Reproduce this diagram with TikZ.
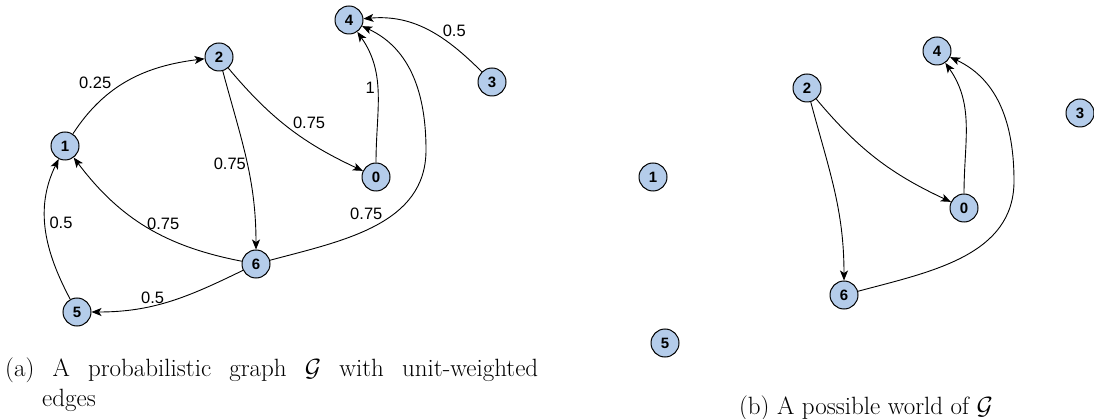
\documentclass[tikz,border=0pt]{standalone}
\usepackage{fontspec}
\usepackage{amsmath,amssymb}
\usetikzlibrary{arrows.meta,positioning}
\newfontfamily\graphfont{Liberation Sans}
\definecolor{vertexblue}{HTML}{B4CCEA}

\begin{document}
\begin{tikzpicture}[
    x=1pt, y=-1pt,
    vertex/.style={
      circle, draw, line width=1pt, fill=vertexblue,
      minimum size=28pt, inner sep=0pt,
      font=\graphfont\fontsize{15}{15}\selectfont\bfseries
    },
    weight/.style={font=\graphfont\fontsize{16.5}{16.5}\selectfont, inner sep=1pt},
    arrow/.style={-{Stealth[length=10pt, width=8pt, inset=2.5pt]}, line width=0.9pt},
    caption/.style={font=\fontsize{25}{30}\selectfont, inner sep=0pt},
  ]
  \useasboundingbox (0,0) rectangle (1094,419);

  % --- (a) probabilistic graph ---
  \node[vertex] (a0) at (376,177) {0};
  \node[vertex] (a1) at (65,146) {1};
  \node[vertex] (a2) at (219,57) {2};
  \node[vertex] (a3) at (492,82) {3};
  \node[vertex] (a4) at (349,20) {4};
  \node[vertex] (a5) at (77,312) {5};
  \node[vertex] (a6) at (256,264) {6};
  \coordinate (a64bend) at (426,150);

  \draw[arrow] (a1) to[out=57, in=187] node[weight, pos=0.37, above left] {0.25} (a2);
  \draw[arrow] (a2) to[out=-50, in=155] node[weight, pos=0.52, above right] {0.75} (a0);
  \draw[arrow] (a2) to[out=-75, in=90] node[weight, pos=0.53, left] {0.75} (a6);
  \draw[arrow] (a0) to[out=90, in=-55] node[weight, pos=0.55, left=1pt] {1} (a4);
  \draw[arrow] (a3) to[out=135, in=5] node[weight, pos=0.38, above right] {0.5} (a4);
  \draw[arrow] (a6) to[out=15, in=-90] node[weight, pos=0.55, above left] {0.75}
    (a64bend) to[out=90, in=-25] (a4);
  \draw[arrow] (a6) to[out=169, in=-53] node[weight, pos=0.4, above=5pt] {0.75} (a1);
  \draw[arrow] (a5) to[out=118, in=-116] node[weight, pos=0.55, right=3pt] {0.5} (a1);
  \draw[arrow] (a6) to[out=206, in=0] node[weight, pos=0.62, above=1pt] {0.5} (a5);

  % --- (b) possible world ---
  \node[vertex] (b0) at (964,208) {0};
  \node[vertex] (b1) at (653,177) {1};
  \node[vertex] (b2) at (807,88) {2};
  \node[vertex] (b3) at (1080,113) {3};
  \node[vertex] (b4) at (937,51) {4};
  \node[vertex] (b5) at (665,343) {5};
  \node[vertex] (b6) at (844,295) {6};
  \coordinate (b64bend) at (1014,181);

  \draw[arrow] (b2) to[out=-50, in=155] (b0);
  \draw[arrow] (b2) to[out=-75, in=90] (b6);
  \draw[arrow] (b0) to[out=90, in=-55] (b4);
  \draw[arrow] (b6) to[out=15, in=-90] (b64bend) to[out=90, in=-25] (b4);

  % --- Captions ---
  \node[caption, anchor=base west, align=left] (capa) at (5,406)
    {\hbox to 533pt{(a) A probabilistic graph $\mathcal{G}$ with unit-weighted}\\
     \hspace*{37pt}edges};
  \node[caption, anchor=base] (capb) at (866,414) {(b) A possible world of $\mathcal{G}$};
\end{tikzpicture}
\end{document}
